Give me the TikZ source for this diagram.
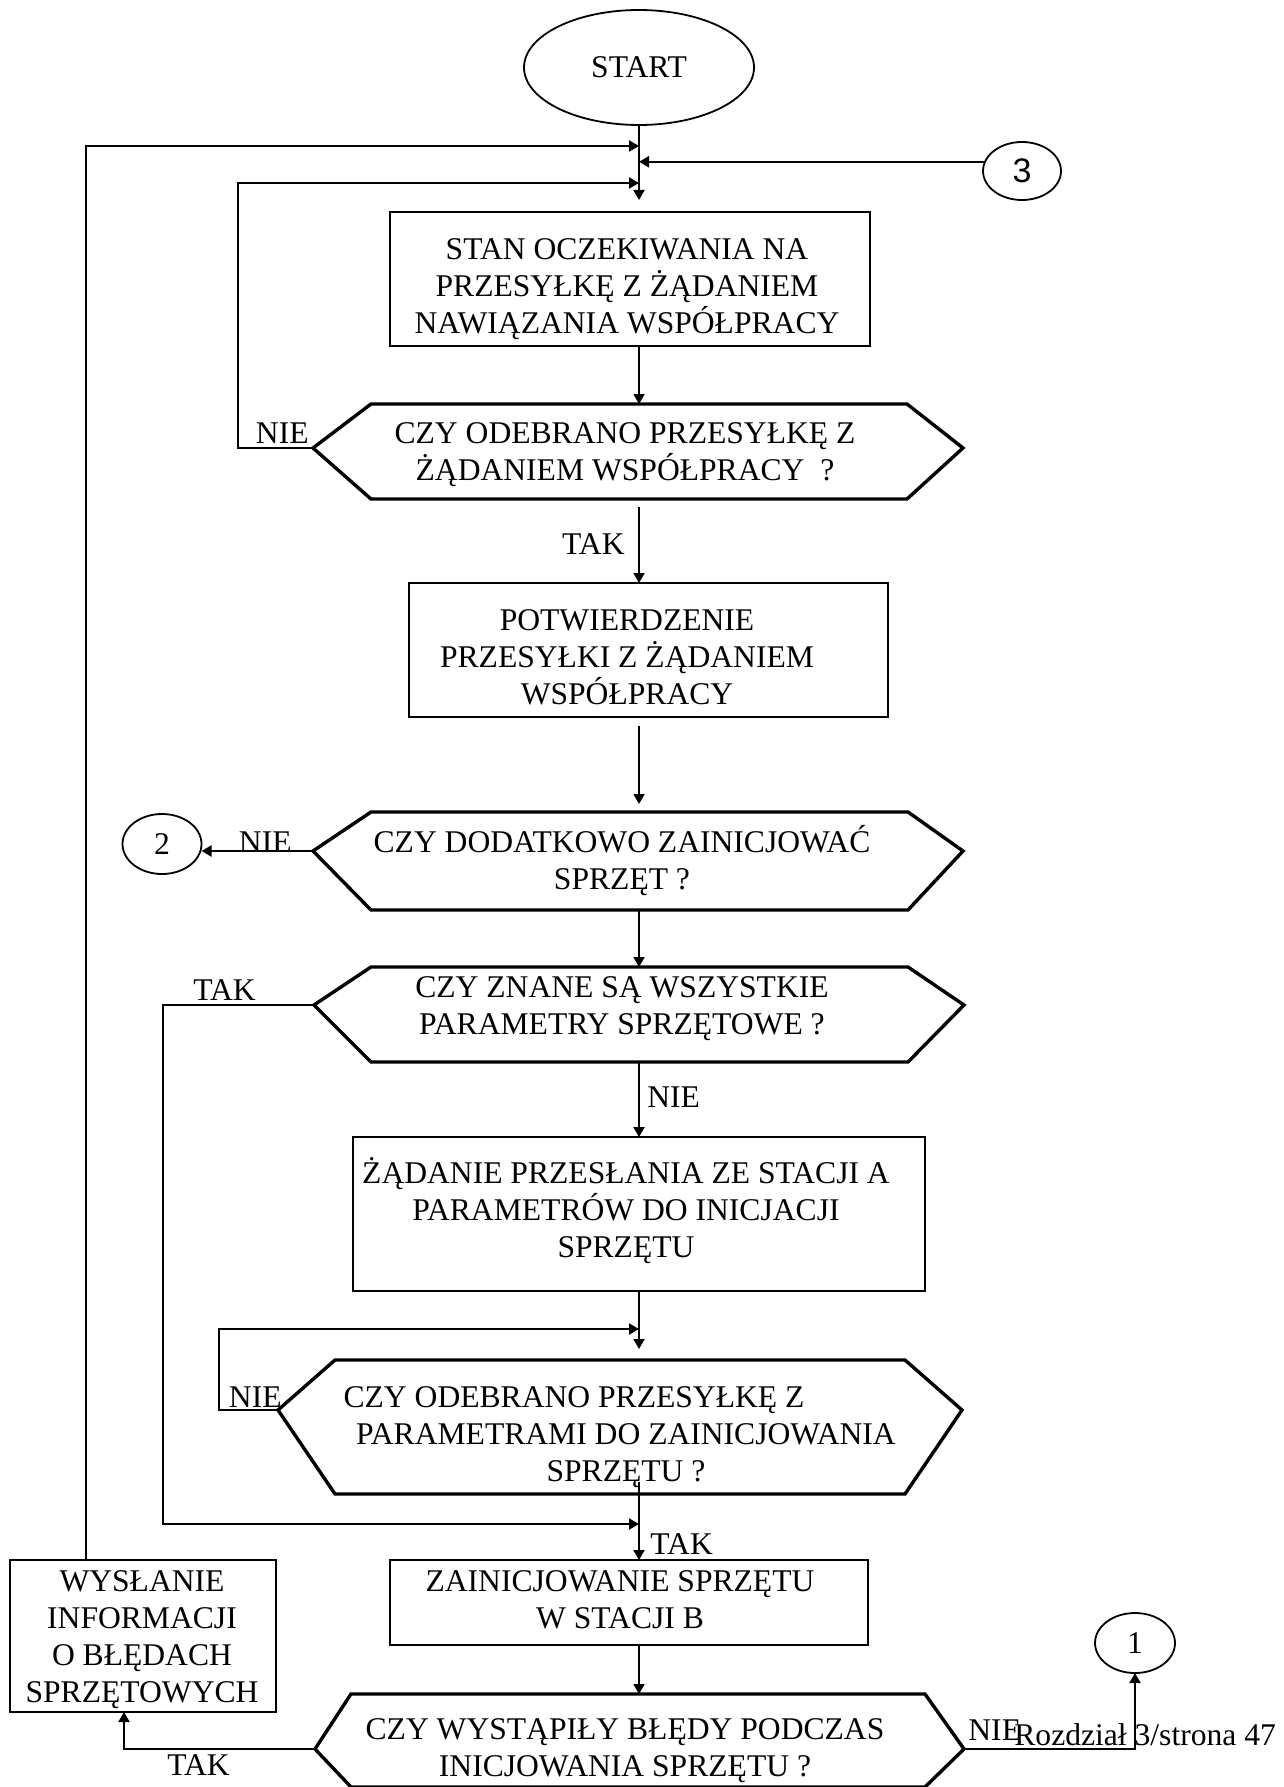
\documentclass[tikz,border=0pt]{standalone}
\usepackage{fontspec}
\setmainfont{Liberation Serif}
\newfontfamily\numsans{Liberation Sans}
\usetikzlibrary{arrows.meta,shapes.geometric}

% body text size of the chart
\newcommand\flowfont{\fontsize{15.8}{18.5}\selectfont}
\def\axisx{639}

% decision hexagon: #1 name, #2 left tip x, #3 top-left x, #4 top-right x,
% #5 right tip x, #6 top y, #7 tip y, #8 bottom y
\newcommand\drawhex[8]{%
  \draw[hexline] (#3,#6) -- (#4,#6) -- (#5,#7) -- (#4,#8) -- (#3,#8) -- (#2,#7) -- cycle;
  \coordinate (#1-w) at (#2,#7);
  \coordinate (#1-e) at (#5,#7);
  \coordinate (#1-n) at (\axisx,#6);
  \coordinate (#1-s) at (\axisx,#8);
}

\begin{document}
\begin{tikzpicture}[x=0.5pt,y=-0.5pt,
  conn/.style={line width=1pt,-{Triangle[length=5pt,width=5.5pt]}},
  boxnode/.style={draw,line width=1.4pt,inner sep=0pt,outer sep=0pt},
  hexline/.style={line width=1.7pt,line join=miter},
  oval/.style={draw,ellipse,line width=0.9pt,inner sep=0pt,outer sep=0pt},
  % multi-line texts are placed by the baseline of their last line
  txt/.style={font=\flowfont,align=center,inner sep=0pt,anchor=base},
  lbl/.style={font=\flowfont,inner sep=0pt},
]
\useasboundingbox[fill=white] (0,0) rectangle (1284,1787);

% terminals and connectors
\node[oval,minimum width=115pt,minimum height=57.5pt,font=\flowfont] (start) at (639,67.5) {START};
\node[oval,minimum width=39pt,minimum height=29pt,font=\numsans\fontsize{17}{17}\selectfont] (c3) at (1022,171) {3};
\node[oval,minimum width=39.5pt,minimum height=30pt,font=\flowfont] (c2) at (162,844) {2};
\node[oval,minimum width=40pt,minimum height=30pt,font=\flowfont] (c1) at (1135,1643) {1};

% process boxes
\node[boxnode,minimum width=240pt,minimum height=67pt] (b1) at (630,279) {};
\node[txt] (b1t) at (627,333) {STAN OCZEKIWANIA NA\\PRZESYŁKĘ Z ŻĄDANIEM\\NAWIĄZANIA WSPÓŁPRACY};

\node[boxnode,minimum width=239.5pt,minimum height=67pt] (b2) at (648.5,650) {};
\node[txt] (b2t) at (627,704) {POTWIERDZENIE\\PRZESYŁKI Z ŻĄDANIEM\\WSPÓŁPRACY};

\node[boxnode,minimum width=286pt,minimum height=77pt] (b3) at (639,1214) {};
\node[txt] (b3t) at (626,1257) {ŻĄDANIE PRZESŁANIA ZE STACJI A\\PARAMETRÓW DO INICJACJI\\SPRZĘTU};

\node[boxnode,minimum width=239pt,minimum height=42.5pt] (b4) at (629,1602.5) {};
\node[txt] (b4t) at (620,1628) {ZAINICJOWANIE SPRZĘTU\\W STACJI B};

\node[boxnode,minimum width=133pt,minimum height=76pt] (b5) at (143,1636) {};
\node[txt] (b5t) at (142,1702) {WYSŁANIE\\INFORMACJI\\O BŁĘDACH\\SPRZĘTOWYCH};

% decisions
\drawhex{h1}{313}{371}{907}{963}{404}{448}{499}
\node[txt] (h1t) at (625,480) {CZY ODEBRANO PRZESYŁKĘ Z\\ŻĄDANIEM WSPÓŁPRACY\ \ ?};

\drawhex{h2}{313}{371}{908}{963}{812}{851}{910}
\node[txt] (h2t) at (622,889) {CZY DODATKOWO ZAINICJOWAĆ\\SPRZĘT ?};

\drawhex{h3}{314}{371}{908}{964}{967}{1005}{1062}
\node[txt] (h3t) at (622,1034) {CZY ZNANE SĄ WSZYSTKIE\\PARAMETRY SPRZĘTOWE ?};

\drawhex{h4}{278}{335}{905}{962}{1360}{1410}{1494}
\node[txt] (h4t) at (626,1481) {CZY ODEBRANO PRZESYŁKĘ Z\hspace*{52pt}\\PARAMETRAMI DO ZAINICJOWANIA\\SPRZĘTU ?};

\drawhex{h5}{315}{351}{925}{964}{1694}{1749}{1787}
\node[txt] (h5t) at (625,1776) {CZY WYSTĄPIŁY BŁĘDY PODCZAS\\INICJOWANIA SPRZĘTU ?};

% branch labels
\node[lbl,anchor=base east] (n1) at (309,443) {NIE};
\node[lbl,anchor=base east] (t1) at (625,554) {TAK};
\node[lbl,anchor=base east] (n2) at (292,852) {NIE};
\node[lbl,anchor=base west] (t3) at (193,1000) {TAK};
\node[lbl,anchor=base west] (n3) at (647,1107) {NIE};
\node[lbl,anchor=base east] (n4) at (282,1407) {NIE};
\node[lbl,anchor=base west] (t4) at (650,1554) {TAK};
\node[lbl,anchor=base west] (n5) at (968,1740) {NIE};
\node[lbl,anchor=base west] (t5) at (167,1775) {TAK};
\node[lbl,anchor=base west] (page) at (1014,1745) {Rozdział 3/strona 47};

% main flow
\draw[conn,shorten >=6pt] (start.south) -- (start |- b1.north);
\draw[conn] (start |- b1.south) -- (h1-n);
\draw[conn,shorten <=4pt] (h1-s) -- (start |- b2.north);
\draw[conn,shorten <=4.5pt,shorten >=4pt] (start |- b2.south) -- (h2-n);
\draw[conn] (h2-s) -- (h3-n);
\draw[conn] (h3-s) -- (start |- b3.north);
\draw[conn,shorten >=5.5pt] (b3.south) -- (h4-n);
\coordinate (h4-out) at (639,1482);
\draw[conn] (h4-out) -- (start |- b4.north);
\draw[conn] (start |- b4.south) -- (h5-n);

% return loops and off-page connectors
\coordinate (lpA) at (86,146);
\draw[conn] (b5.north -| lpA) -- (lpA) -- (lpA -| start);
\draw[conn] (c3.166) -- (c3.166 -| start);
\coordinate (lpB) at (238,183);
\draw[conn] (h1-w) -| (lpB) -- (lpB -| start);
\draw[conn] (h2-w) -- (h2-w -| c2.east);
\coordinate (lpD) at (163,1524);
\draw[conn] (h3-w) -| (lpD) -- (lpD -| start);
\coordinate (lpC) at (219,1329);
\draw[conn] (h4-w) -| (lpC) -- (lpC -| start);
\coordinate (lpE) at (124,1749);
\draw[conn] (h5-w) -- (lpE) -- (lpE |- b5.south);
\draw[conn] (h5-e) -| (c1.south);
\end{tikzpicture}
\end{document}
